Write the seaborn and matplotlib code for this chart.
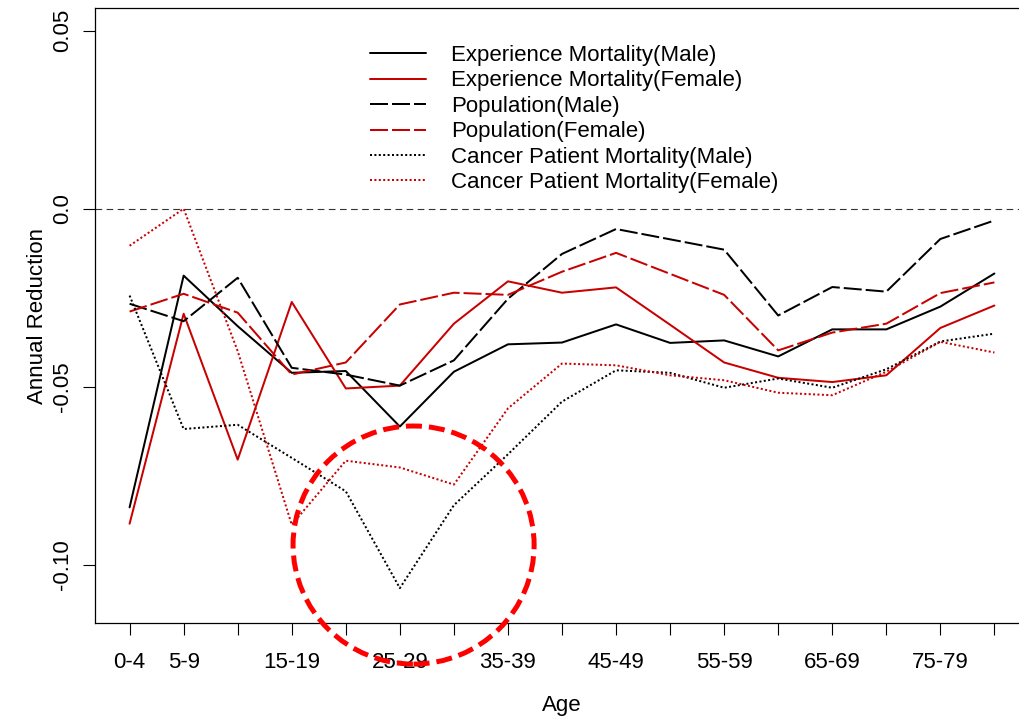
import numpy as np
import pandas as pd
import matplotlib
matplotlib.use("Agg")
import matplotlib.pyplot as plt
from matplotlib.patches import Ellipse
import seaborn as sns

# ---- data ----
age_groups = ["0-4", "5-9", "10-14", "15-19", "20-24", "25-29", "30-34", "35-39",
              "40-44", "45-49", "50-54", "55-59", "60-64", "65-69", "70-74", "75-79", "80-84"]
shown_labels = ["0-4", "5-9", "15-19", "25-29", "35-39", "45-49", "55-59", "65-69", "75-79"]

exp_male = [-0.0839, -0.0188, -0.0330, -0.0461, -0.0456, -0.0612, -0.0458, -0.0381, -0.0376,
            -0.0325, -0.0377, -0.0370, -0.0415, -0.0339, -0.0339, -0.0275, -0.0182]
exp_female = [-0.0885, -0.0295, -0.0705, -0.0262, -0.0505, -0.0497, -0.0323, -0.0204, -0.0236,
              -0.0221, -0.0326, -0.0432, -0.0475, -0.0487, -0.0468, -0.0335, -0.0272]
pop_male = [-0.0267, -0.0316, -0.0194, -0.0447, -0.0466, -0.0497, -0.0426, -0.0253, -0.0127,
            -0.0057, -0.0086, -0.0115, -0.0300, -0.0220, -0.0233, -0.0085, -0.0033]
pop_female = [-0.0289, -0.0239, -0.0292, -0.0466, -0.0432, -0.0269, -0.0236, -0.0242, -0.0177,
              -0.0124, -0.0183, -0.0242, -0.0398, -0.0348, -0.0323, -0.0237, -0.0207]
cancer_male = [-0.0244, -0.0619, -0.0607, -0.0700, -0.0794, -0.1066, -0.0833, -0.0690, -0.0542,
               -0.0454, -0.0461, -0.0503, -0.0477, -0.0503, -0.0451, -0.0373, -0.0351]
cancer_female = [-0.0104, 0.0000, -0.0400, -0.0888, -0.0708, -0.0727, -0.0775, -0.0561, -0.0435,
                 -0.0440, -0.0468, -0.0482, -0.0517, -0.0524, -0.0458, -0.0374, -0.0404]

series_names = ["Experience Mortality(Male)", "Experience Mortality(Female)",
                "Population(Male)", "Population(Female)",
                "Cancer Patient Mortality(Male)", "Cancer Patient Mortality(Female)"]
series_values = [exp_male, exp_female, pop_male, pop_female, cancer_male, cancer_female]

y_ticks = [-0.10, -0.05, 0.0, 0.05]
y_tick_labels = ["-0.10", "-0.05", "0.0", "0.05"]

# highlight circle (data units)
circle_center = (5.254, -0.0945)
circle_size = (4.46, 0.0669)

# ---- style ----
sns.set_style("ticks")
plt.rcParams["font.family"] = ["Liberation Sans", "DejaVu Sans"]
plt.rcParams["text.color"] = "black"
plt.rcParams["axes.labelcolor"] = "black"
plt.rcParams["xtick.color"] = "black"
plt.rcParams["ytick.color"] = "black"
plt.rcParams["xtick.labelcolor"] = "black"
plt.rcParams["ytick.labelcolor"] = "black"

BLACK = "#000000"
RED = "#C80000"
colors = [BLACK, RED, BLACK, RED, BLACK, RED]
solid = "-"
dashed = (0, (9, 2))
dotted = (0, (1, 1.2))
styles = [solid, solid, dashed, dashed, dotted, dotted]
LW = 1.44
FS = 16

fig = plt.figure(figsize=(10.19, 7.18), dpi=100)
ax = fig.add_axes([95 / 1019, 1 - 623 / 718, (1029 - 95) / 1019, (623 - 8) / 718])

x_pos = np.arange(len(age_groups))
for name, vals, c, ls in zip(series_names, series_values, colors, styles):
    df = pd.DataFrame({"x": x_pos, "y": vals})
    sns.lineplot(data=df, x="x", y="y", ax=ax, color=c, linestyle=ls, linewidth=LW,
                 label=name, sort=False, estimator=None)

ax.axhline(0.0, color="#333333", linewidth=0.8, linestyle=(0, (6, 4)), zorder=1)

circ = Ellipse(circle_center, circle_size[0], circle_size[1], fill=False,
               edgecolor="#FF0000", linewidth=3.6, linestyle=(0, (3.2, 1.4)), zorder=5,
               clip_on=False)
ax.add_patch(circ)

ax.set_xlim(-0.64, len(age_groups) - 1 + 0.64)
ax.set_ylim(-0.1164, 0.0564)

ax.set_xticks(x_pos)
ax.set_xticklabels([a if a in shown_labels else "" for a in age_groups], fontsize=FS)
ax.set_yticks(y_ticks)
ax.set_yticklabels(y_tick_labels, fontsize=FS, rotation=90, va="center")

ax.tick_params(axis="both", direction="out", length=8.6, width=0.8, color="black")
ax.tick_params(axis="x", pad=12)
ax.tick_params(axis="y", pad=7)

for sp in ax.spines.values():
    sp.set_linewidth(0.9)
    sp.set_color("black")
    sp.set_visible(True)

ax.set_xlabel("Age", fontsize=FS, labelpad=16)
ax.set_ylabel("Annual Reduction", fontsize=FS, labelpad=3)

leg = ax.legend(loc="upper left", bbox_to_anchor=(370 / 1019, 1 - 45 / 718),
                bbox_transform=fig.transFigure, frameon=False, fontsize=FS,
                handlelength=2.5, handletextpad=1.15, labelspacing=0.2, borderpad=0,
                borderaxespad=0)

fig.savefig("out.png", dpi=100)
